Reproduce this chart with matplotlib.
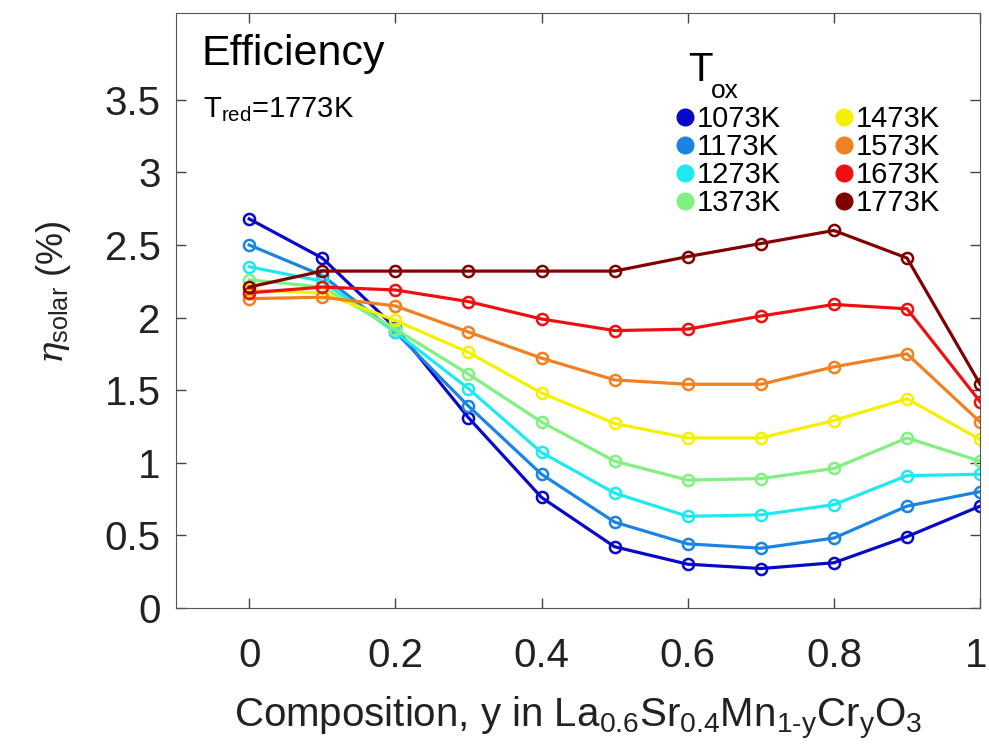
import matplotlib.pyplot as plt
import matplotlib.transforms as mtransforms
from matplotlib.lines import Line2D

plt.rcParams['font.family'] = ['Liberation Sans', 'DejaVu Sans']
plt.rcParams['mathtext.fontset'] = 'custom'
plt.rcParams['mathtext.rm'] = 'Liberation Sans'
plt.rcParams['mathtext.it'] = 'DejaVu Serif:italic'

comp = [0, 0.1, 0.2, 0.3, 0.4, 0.5, 0.6, 0.7, 0.8, 0.9, 1.0]
t_ox = ['1073K', '1173K', '1273K', '1373K', '1473K', '1573K', '1673K', '1773K']

eta_1073 = [2.68, 2.41, 1.93, 1.31, 0.76, 0.42, 0.30, 0.27, 0.31, 0.49, 0.70]
eta_1173 = [2.50, 2.29, 1.90, 1.39, 0.92, 0.59, 0.44, 0.41, 0.48, 0.70, 0.80]
eta_1273 = [2.35, 2.25, 1.90, 1.51, 1.07, 0.79, 0.63, 0.64, 0.71, 0.91, 0.92]
eta_1373 = [2.26, 2.21, 1.92, 1.61, 1.28, 1.01, 0.88, 0.89, 0.96, 1.17, 1.01]
eta_1473 = [2.19, 2.17, 1.98, 1.76, 1.48, 1.27, 1.17, 1.17, 1.29, 1.44, 1.16]
eta_1573 = [2.13, 2.14, 2.08, 1.90, 1.72, 1.57, 1.54, 1.54, 1.66, 1.75, 1.28]
eta_1673 = [2.17, 2.21, 2.19, 2.11, 1.99, 1.91, 1.92, 2.01, 2.09, 2.06, 1.42]
eta_1773 = [2.21, 2.32, 2.32, 2.32, 2.32, 2.32, 2.42, 2.51, 2.60, 2.41, 1.54]

series = [eta_1073, eta_1173, eta_1273, eta_1373, eta_1473, eta_1573, eta_1673, eta_1773]
colors = ['#0808c8', '#1a84e0', '#1ee8f0', '#80f080', '#f4f000', '#f08020', '#ee1010', '#800000']

fig = plt.figure(figsize=(9.89, 7.54), dpi=100)
ax = fig.add_axes([0.178, 0.194, 0.813, 0.789])

for y, c in zip(series, colors):
    ax.plot(comp, y, color=c, lw=2.3, marker='o', ms=8, mfc='none', mew=1.8)

ax.set_xlim(-0.1, 1.0)
ax.set_ylim(0, 4.1)
ax.set_xticks([0, 0.2, 0.4, 0.6, 0.8, 1])
ax.set_xticklabels(['0', '0.2', '0.4', '0.6', '0.8', '1'])
ax.set_yticks([0, 0.5, 1, 1.5, 2, 2.5, 3, 3.5])
ax.set_yticklabels(['0', '0.5', '1', '1.5', '2', '2.5', '3', '3.5'])
ax.tick_params(direction='in', top=True, right=True, length=7, width=1,
               colors='#444444', labelcolor='#222222', labelsize=29)
ax.tick_params(axis='x', pad=21)
ax.tick_params(axis='y', pad=11)
for s in ax.spines.values():
    s.set_color('#555555')

# last x label sits right at the figure edge, pull it in a touch
last = ax.get_xticklabels()[-1]
last.set_transform(last.get_transform() +
                   mtransforms.ScaledTranslation(-4 / 100, 0, fig.dpi_scale_trans))

ax.set_xlabel(r'Composition, y in La$_{0.6}$Sr$_{0.4}$Mn$_{\mathrm{1\text{-}y}}$Cr$_{\mathrm{y}}$O$_{3}$',
              fontsize=29, color='#222222', labelpad=14)
ax.set_ylabel(r'$\eta_{\mathrm{solar}}$ (%)', fontsize=26, color='#222222')
ax.yaxis.set_label_coords(-0.128, 0.53)

ax.text(0.032, 0.965, 'Efficiency', transform=ax.transAxes, fontsize=31,
        va='top', ha='left', color='black')
ax.text(0.033, 0.862, r'T$_{\mathrm{red}}$=1773K', transform=ax.transAxes, fontsize=21,
        va='top', ha='left', color='black')

# legend title drawn as two texts so the subscript sits low like the original
ax.text(0.637, 0.935, 'T', transform=ax.transAxes, fontsize=29,
        va='top', ha='left', color='black')
ax.text(0.665, 0.888, 'ox', transform=ax.transAxes, fontsize=19,
        va='top', ha='left', color='black')

handles = [Line2D([], [], ls='none', marker='o', ms=12, color=c) for c in colors]
leg = ax.legend(handles, t_ox, loc='upper left', bbox_to_anchor=(0.606, 0.87),
                ncol=2, frameon=False, fontsize=21, handlelength=0.5,
                handletextpad=0.15, columnspacing=1.9, labelspacing=0.0,
                borderpad=0)

fig.savefig('out.png', dpi=100)
